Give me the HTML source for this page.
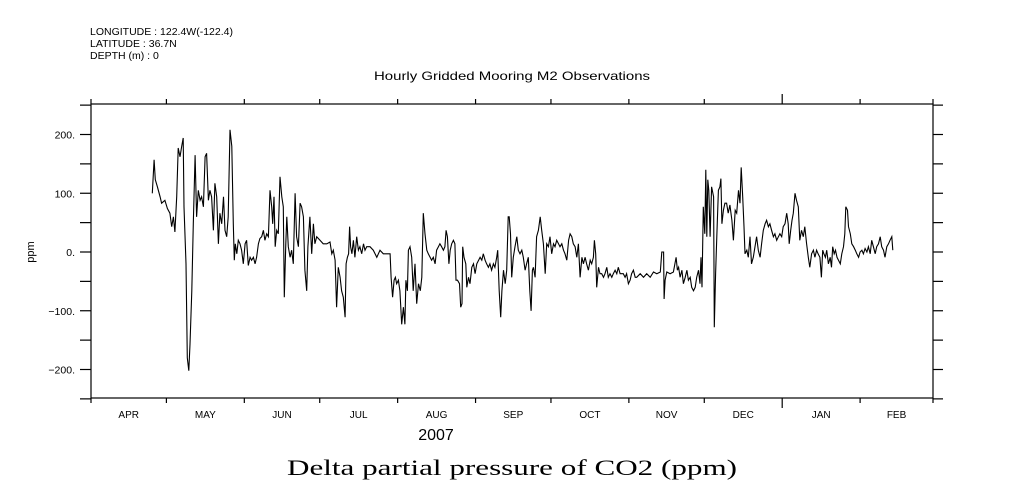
<!DOCTYPE html>
<html><head><meta charset="utf-8"><style>
body{margin:0;background:#fff;}
svg{display:block;font-family:"Liberation Sans",sans-serif;}
</style></head><body>
<svg id="chart" width="1009" height="504" viewBox="0 0 1009 504" xmlns="http://www.w3.org/2000/svg">
<g font-size="10.5" fill="#000">
<text x="90" y="35">LONGITUDE : 122.4W(-122.4)</text>
<text x="90" y="47">LATITUDE : 36.7N</text>
<text x="90" y="59">DEPTH (m) : 0</text>
</g>
<text x="374" y="80" font-size="12" textLength="276" lengthAdjust="spacingAndGlyphs">Hourly Gridded Mooring M2 Observations</text>
<rect x="91" y="104" width="842" height="294" fill="none" stroke="#000" stroke-width="1.2"/>
<g id="axes"></g>
<g id="series"></g>
<text x="34" y="252" text-anchor="middle" font-size="11" transform="rotate(-90 34 252)">ppm</text>
<text x="436" y="440" text-anchor="middle" font-size="16">2007</text>
<text x="287" y="475" font-size="22" font-family="'Liberation Serif',serif" textLength="450" lengthAdjust="spacingAndGlyphs">Delta partial pressure of CO2 (ppm)</text>
</svg>
<script>
const monthLabels=["APR","MAY","JUN","JUL","AUG","SEP","OCT","NOV","DEC","JAN","FEB"];
const monthStartDays=[0,30,61,91,122,153,183,214,244,275,306,335];
const yTickValues=[200,100,0,-100,-200];
const yTickLabels=["200.","100.","0.","\u2212100.","\u2212200."];
const yMinorValues=[250,200,150,100,50,0,-50,-100,-150,-200,-250];
const days=[24.4,25.1,25.6,26.4,27.5,28.1,29.4,30.4,31.4,32.1,32.8,33.4,34.1,34.7,35.4,36.1,36.7,37.0,37.8,38.3,38.9,39.4,40.1,40.7,41.4,42.0,42.7,43.4,44.0,44.7,45.4,46.0,46.7,47.3,48.0,48.7,49.3,50.0,50.7,51.3,52.0,52.7,53.3,54.0,54.6,55.3,56.0,56.6,57.0,57.4,58.0,58.6,59.3,59.9,60.6,61.3,61.9,62.6,63.3,63.9,64.6,65.3,65.9,66.6,67.2,67.9,68.6,69.2,69.9,70.6,71.2,71.9,72.3,72.8,73.3,73.9,74.5,75.2,75.9,76.5,76.9,77.5,77.9,78.5,79.2,79.8,80.5,81.2,81.8,82.5,83.2,83.8,84.5,85.1,85.8,86.3,87.1,87.8,88.5,89.1,89.8,91.1,92.4,93.8,95.1,95.8,96.4,97.1,97.7,98.4,99.1,99.7,100.4,101.1,101.5,102.0,102.5,102.9,103.3,103.8,104.4,105.0,105.7,106.4,107.0,107.7,108.4,109.0,109.7,111.0,112.3,113.7,115.0,116.3,117.6,119.0,119.4,120.0,120.6,121.1,121.6,122.3,122.9,123.6,124.3,124.9,125.3,125.9,126.3,126.9,
127.6,128.2,128.9,129.6,130.3,131.0,131.6,132.2,132.9,133.6,134.2,134.9,135.5,136.2,136.9,137.5,138.2,138.8,139.5,140.2,140.8,141.3,141.8,142.4,142.9,143.5,144.2,144.8,145.2,145.8,146.6,147.1,147.6,147.9,148.4,149.1,149.5,150.2,150.8,151.5,152.2,152.8,153.5,154.2,154.8,155.5,156.1,156.8,157.4,158.1,158.7,159.4,160.1,160.7,161.4,161.8,162.4,163.0,163.5,164.1,164.8,165.4,166.0,166.4,166.9,167.4,168.0,168.7,169.4,170.0,170.7,171.4,172.0,172.7,173.3,174.0,174.6,175.1,175.6,176.0,176.7,177.3,178.0,178.7,179.3,180.0,180.7,181.3,182.0,182.6,183.3,184.0,184.6,185.3,186.0,186.6,187.3,188.0,188.6,189.3,190.0,190.6,191.3,191.9,192.6,193.3,193.9,194.6,195.3,195.9,196.6,197.2,197.9,198.6,199.2,199.9,200.3,200.8,201.2,201.9,202.5,203.2,203.9,204.5,205.2,205.8,206.5,207.2,207.8,208.5,209.2,209.8,210.5,211.2,211.8,212.5,213.1,213.8,214.5,215.1,215.8,216.5,217.1,218.5,219.8,221.1,222.5,223.8,225.1,226.5,227.1,227.8,228.0,228.4,229.1,230.4,231.7,232.8,233.3,233.8,234.4,235.1,235.7,236.4,237.1,237.7,238.4,239.0,239.7,240.4,241.0,241.7,242.3,242.7,243.1,243.6,244.2,244.6,245.0,245.4,245.8,246.3,246.9,247.7,248.0,248.5,249.0,249.6,250.2,250.6,251.0,251.6,252.2,252.9,253.5,254.2,
255.0,255.6,256.3,256.9,257.6,258.2,258.7,259.3,259.8,260.2,260.9,261.5,262.2,262.8,263.5,264.2,264.8,265.5,266.2,266.8,267.5,268.2,268.8,269.5,270.1,270.8,271.5,272.1,272.8,273.5,274.1,274.8,275.4,276.1,276.8,277.4,277.8,278.4,278.9,279.4,280.1,280.7,281.4,282.0,282.7,283.4,284.0,284.7,285.4,286.0,286.7,287.4,288.0,288.7,289.3,290.0,290.6,291.1,291.6,292.2,292.7,293.4,294.1,294.6,295.1,295.7,296.2,296.8,297.4,298.1,298.7,299.4,299.9,300.3,301.0,301.4,302.1,302.7,303.4,304.1,304.7,305.4,306.0,306.7,307.3,308.0,308.7,309.3,310.0,310.6,311.3,312.0,312.6,313.3,314.0,314.6,315.3,315.9,316.6,317.3,317.9,318.6,319.0];
const co2Values=[100,157,123,111,94,83,88,74,66,43,60,34,94,177,162,180,194,77,-20,-180,-202,-157,-66,48,165,60,105,88,94,77,162,168,88,105,94,37,117,94,14,66,48,94,37,26,60,208,180,48,-14,14,-3,20,14,3,-20,14,20,-23,-9,-14,-9,-20,-9,14,23,26,37,20,31,26,105,77,48,94,9,37,31,128,94,77,-77,14,60,9,-9,3,-20,100,26,9,83,77,60,-31,-66,9,60,-3,48,14,26,20,14,14,17,-3,3,-14,-94,-26,-43,-66,-77,-111,-20,-9,-3,43,9,-3,20,-9,26,3,9,-3,14,3,9,9,3,-9,3,-3,-3,-3,-43,-77,-48,-43,-54,-48,-66,-123,-94,-123,-48,-66,3,9,
-9,-66,-20,-88,-54,-66,-43,66,31,3,-3,-9,-14,-9,-20,3,9,14,9,3,9,37,26,-20,3,14,20,14,-48,-48,-54,-94,-88,9,-9,-20,-60,-43,-54,-26,-20,-37,-20,-14,-9,-14,-3,-14,-20,-26,-20,-31,-20,-26,-9,3,-66,-111,-66,-31,-54,-31,60,60,31,-43,-9,9,26,3,-3,3,-9,-31,-20,-9,-66,-100,-31,-26,-43,26,37,60,37,14,-37,14,9,26,-3,14,9,20,14,9,14,3,-3,-14,20,31,26,14,9,-9,14,-43,-9,-20,-9,-20,-31,-14,-20,-9,20,-3,-60,-26,-37,-37,-43,-37,-26,-43,-37,-43,-37,-31,-37,-26,-37,-37,-37,-43,-37,-54,-48,-37,-31,-43,-43,-37,-43,-37,-43,-34,-37,-34,0,0,-80,-48,-34,-37,-34,-9,-31,-26,-43,-31,-54,-43,-31,-48,-43,-60,-66,-60,-43,-31,-54,-9,-60,77,31,140,26,123,105,26,111,94,-128,-37,26,105,111,125,48,71,83,83,66,80,
54,20,71,66,105,83,144,94,43,-3,3,-9,26,-20,-9,9,26,3,-9,14,37,48,54,43,48,37,26,31,20,26,31,26,43,48,66,48,14,37,54,66,100,88,77,20,37,26,43,14,-9,-26,-3,3,-9,3,-3,-9,-43,3,-3,-9,3,-20,-9,-26,9,-3,3,-9,-14,-20,-3,9,31,77,71,43,31,14,9,3,-3,-9,0,3,-3,6,0,9,-3,20,9,-3,9,14,26,9,3,-9,9,14,20,26,3];

const NS="http://www.w3.org/2000/svg";
const X0=91,X1=933,Y0=104,Y1=398;
function xScale(d){return X0+d*(X1-X0)/335;}
function yScale(v){return 252-v*0.5875;}
const axes=document.getElementById('axes');
function line(x1,y1,x2,y2,name){
  const l=document.createElementNS(NS,'line');
  l.setAttribute('x1',x1);l.setAttribute('y1',y1);l.setAttribute('x2',x2);l.setAttribute('y2',y2);
  l.setAttribute('stroke','#000');l.setAttribute('stroke-width','1.2');
  
  
  axes.appendChild(l);
}
function text(x,y,s,anchor,size,name){
  const t=document.createElementNS(NS,'text');
  t.setAttribute('x',x);t.setAttribute('y',y);t.setAttribute('text-anchor',anchor);t.setAttribute('font-size',size);
  t.textContent=s;
  
  
  axes.appendChild(t);
}
yMinorValues.forEach(v=>{
  const y=yScale(v);
  if(y<Y0-2||y>Y1+2)return;
  line(80,y,X0,y,'y-tick-left');
  line(X1,y,943,y,'y-tick-right');
});
yTickValues.forEach((v,i)=>{
  text(75,yScale(v)+4,yTickLabels[i],'end',10.5,'y-tick-label');
});
monthStartDays.forEach((d,i)=>{
  const x=xScale(d);
  const big=(i===9);
  line(x,Y0,x,big?94:99,'x-tick-top');
  line(x,Y1,x,big?408:403,'x-tick-bottom');
});
monthLabels.forEach((m,i)=>{
  const x=xScale((monthStartDays[i]+monthStartDays[i+1])/2);
  text(x,418,m,'middle',10,'month-label');
});
const pts=days.map((d,i)=>xScale(d).toFixed(1)+','+yScale(co2Values[i]).toFixed(1)).join(' ');
const pl=document.createElementNS(NS,'polyline');
pl.setAttribute('points',pts);
pl.setAttribute('fill','none');pl.setAttribute('stroke','#000');pl.setAttribute('stroke-width','1.1');


document.getElementById('series').appendChild(pl);
</script>
</body></html>
